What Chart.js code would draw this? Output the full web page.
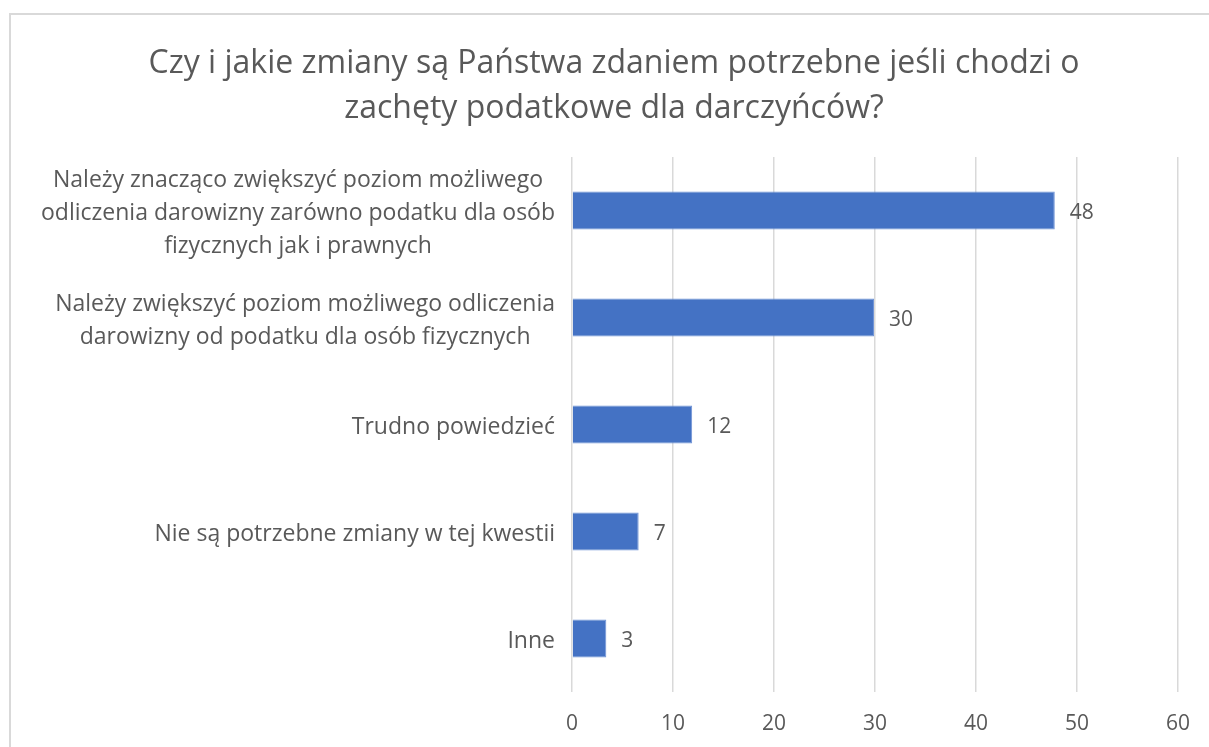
<!DOCTYPE html>
<html>
<head>
<meta charset="utf-8">
<script src="https://cdn.jsdelivr.net/npm/chart.js@4"></script>
<style>
  html, body { margin: 0; padding: 0; background: #fff; overflow: hidden; }
  #frame { position: absolute; left: 9px; top: 13px; width: 1260px; height: 800px; border: 2px solid #d9d9d9; box-sizing: border-box; }
  #wrap { position: absolute; left: 0; top: 0; width: 1209px; height: 747px; }
</style>
</head>
<body>
<div id="frame"></div>
<div id="wrap"><canvas id="chart"></canvas></div>
<script>
// data
const titleLines = ['Czy i jakie zmiany są Państwa zdaniem potrzebne jeśli chodzi o', 'zachęty podatkowe dla darczyńców?'];
const categories = [
    ['Należy znacząco zwiększyć poziom możliwego', 'odliczenia darowizny zarówno podatku dla osób', 'fizycznych jak i prawnych'],
    ['Należy zwiększyć poziom możliwego odliczenia', 'darowizny od podatku dla osób fizycznych'],
    ['Trudno powiedzieć'],
    ['Nie są potrzebne zmiany w tej kwestii'],
    ['Inne']
];
const values = [47.8, 29.9, 11.9, 6.6, 3.4];
const xTicks = [0, 10, 20, 30, 40, 50, 60];

const FONT = "'Open Sans', sans-serif";
const TEXT = '#595959';

// category labels: block right-aligned, lines centered inside the block
const catLabels = {
    id: 'catLabels',
    afterDraw(chart) {
        const ctx = chart.ctx;
        const ys = chart.scales.y;
        const lh = 33;
        ctx.save();
        ctx.font = '23px ' + FONT;
        ctx.fillStyle = TEXT;
        ctx.textAlign = 'center';
        ctx.textBaseline = 'middle';
        categories.forEach((lines, i) => {
            const py = ys.getPixelForValue(i) + 3;
            const w = Math.max(...lines.map(l => ctx.measureText(l).width));
            const cx = chart.chartArea.left - 17 - w / 2;
            lines.forEach((l, j) => {
                ctx.fillText(l, cx, py + (j - (lines.length - 1) / 2) * lh);
            });
        });
        ctx.restore();
    }
};

// value labels right of each bar
const valueLabels = {
    id: 'valueLabels',
    afterDatasetsDraw(chart) {
        const ctx = chart.ctx;
        const meta = chart.getDatasetMeta(0);
        ctx.save();
        ctx.font = '21px ' + FONT;
        ctx.fillStyle = TEXT;
        ctx.textAlign = 'left';
        ctx.textBaseline = 'middle';
        meta.data.forEach((bar, i) => {
            ctx.fillText(Math.round(values[i]), bar.x + 15, bar.y + 3);
        });
        ctx.restore();
    }
};

window.onload = function() {
    const ctx = document.getElementById('chart').getContext('2d');
    new Chart(ctx, {
        type: 'bar',
        data: {
            labels: categories,
            datasets: [{
                data: values,
                backgroundColor: '#4472C4',
                borderColor: '#6f93d6',
                borderWidth: 1,
                categoryPercentage: 1,
                barPercentage: 0.355
            }]
        },
        options: {
            indexAxis: 'y',
            responsive: true,
            maintainAspectRatio: false,
            animation: false,
            layout: { padding: { left: 50, right: 31, top: 42, bottom: 0 } },
            plugins: {
                legend: { display: false },
                tooltip: { enabled: false },
                title: {
                    display: true,
                    text: titleLines,
                    color: TEXT,
                    font: { family: FONT, size: 32, weight: 'normal', lineHeight: 1.39 },
                    padding: { top: 0, bottom: 26 }
                }
            },
            scales: {
                x: {
                    min: xTicks[0],
                    max: xTicks[xTicks.length - 1],
                    ticks: {
                        stepSize: 10,
                        color: TEXT,
                        font: { family: FONT, size: 21 },
                        padding: 19
                    },
                    grid: { color: '#d9d9d9', lineWidth: 1.5, drawTicks: false },
                    border: { display: false },
                    afterFit: (s) => { s.height = 55; }
                },
                y: {
                    ticks: { display: false },
                    grid: { display: false },
                    border: { display: false },
                    afterFit: (s) => { s.width = 572 - 50; }
                }
            }
        },
        plugins: [catLabels, valueLabels]
    });
};
</script>
</body>
</html>
